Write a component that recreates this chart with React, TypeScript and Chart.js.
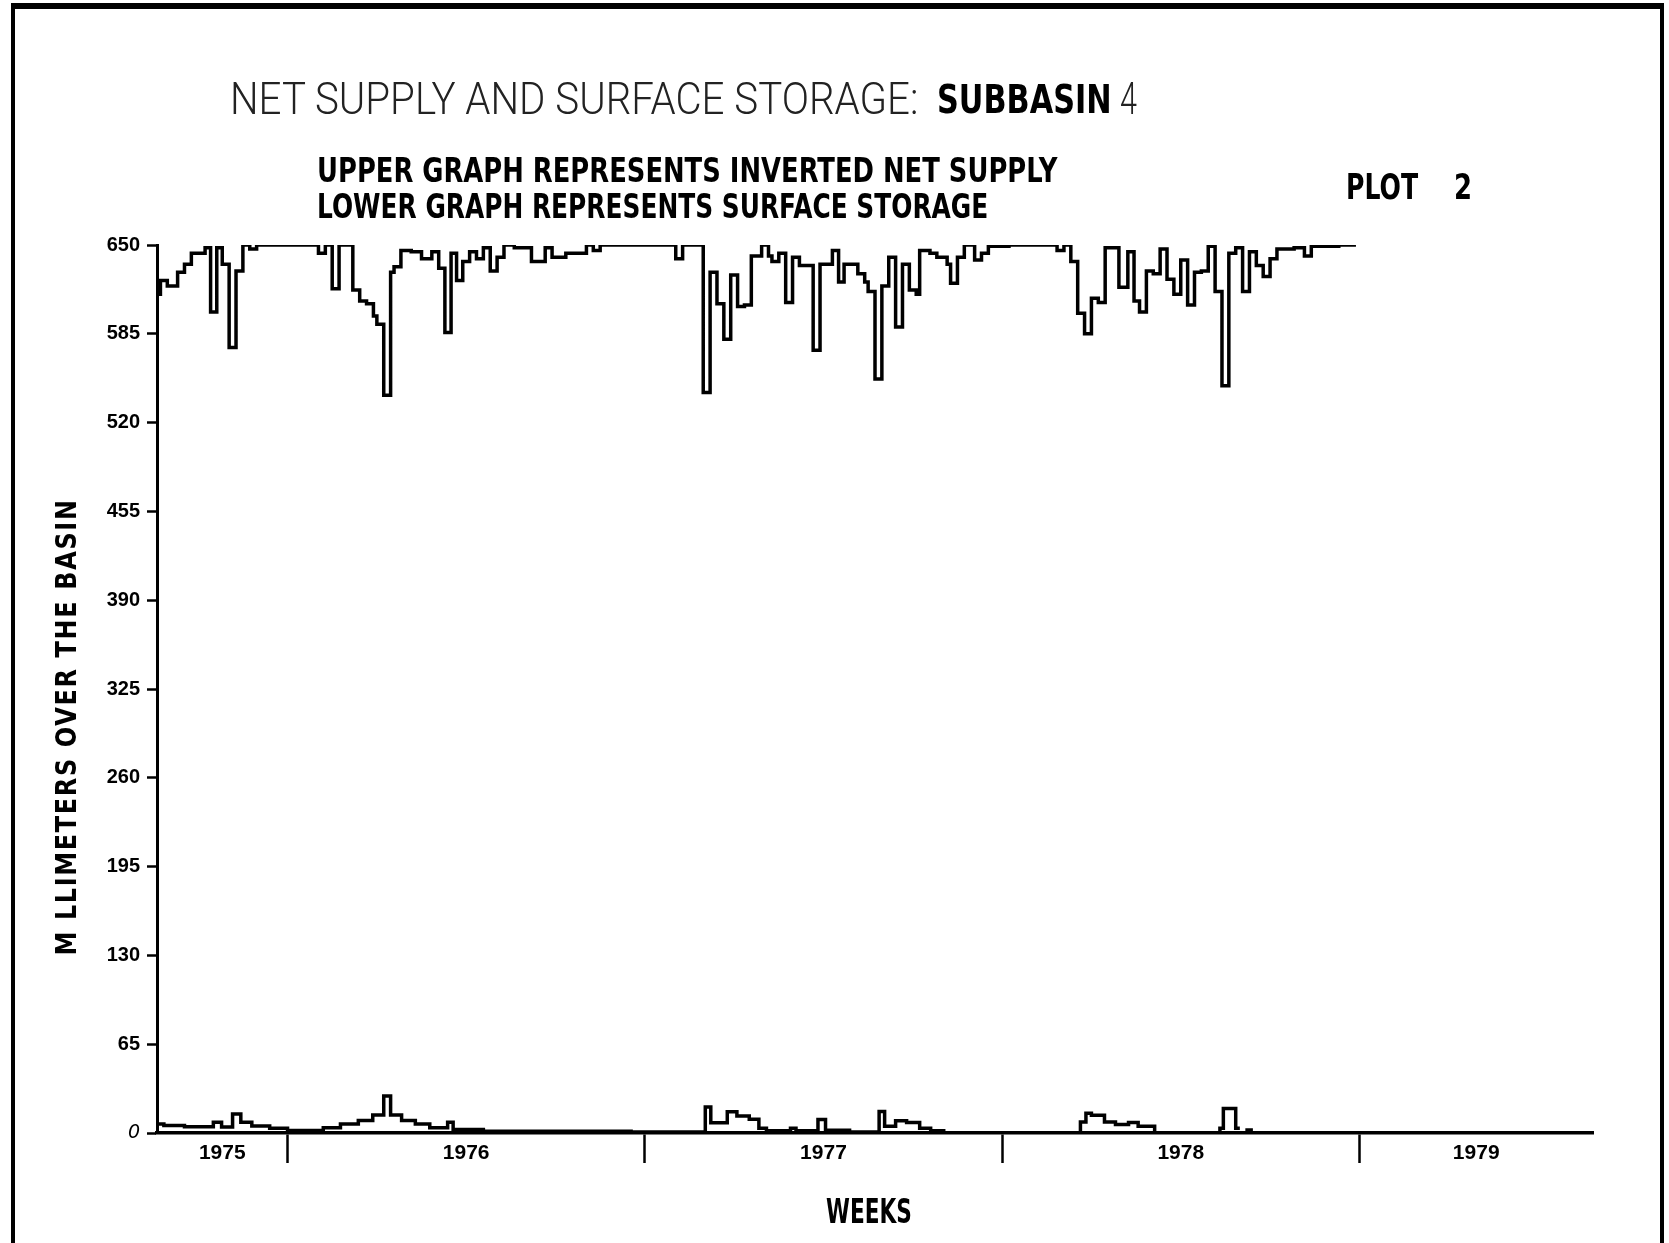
import React, { useEffect, useRef } from 'react';
import { Chart, registerables } from 'chart.js';

Chart.register(...registerables);

// Weeks counted from the left edge of the axis (the 1976 boundary falls near week 19)
const upperWeeks = [
  0, 0.5, 1.5, 3, 4, 5, 7, 7.8, 8.7, 9.5, 10.5, 11.5, 12.5, 13.5, 14.5, 23.5, 24.5, 25.5, 26.5, 28.5,
  29.5, 30.5, 31.5, 32, 33, 34, 34.5, 35.5, 37, 38.5, 40, 41, 41.9, 42.8, 43.6, 44.5, 45.5, 46.5, 47.5, 48.5,
  49.5, 50.5, 52, 54.5, 56.5, 57.5, 59.5, 62.5, 63.5, 64.5, 75.5, 76.5, 79.5, 80.5, 81.5, 82.5, 83.5, 84.5, 85.5, 86.5,
  88, 89, 89.5, 90.5, 91.5, 92.5, 93.5, 95.5, 96.5, 98.3, 99.2, 100, 102, 103, 103.5, 104.5, 105.5, 106.5, 107.5, 108.5,
  109.5, 110.5, 111, 112.5, 113.5, 115, 115.5, 116.5, 117.5, 119, 120, 121, 124, 131, 132, 133, 134, 135, 136, 137,
  138, 140, 141.3, 142.2, 143, 144, 145, 146, 147, 148, 149, 150, 151, 152, 153, 154, 155, 156, 157, 158,
  159, 160, 161, 162, 163, 165.5, 167, 168, 172, 174.5,
];
const upperValues = [
  614, 624, 620, 630, 636, 644, 648, 601, 648, 636, 575, 631, 650, 647, 650, 644, 650, 618, 650, 617,
  609, 607, 598, 592, 540, 630, 634, 646, 645, 640, 645, 633, 586, 644, 624, 638, 645, 640, 648, 631,
  641, 650, 648, 638, 648, 641, 644, 650, 646, 650, 640, 650, 542, 630, 607, 581, 628, 605, 606, 642,
  650, 642, 638, 644, 608, 641, 635, 573, 636, 646, 623, 636, 629, 623, 616, 552, 620, 641, 590, 636,
  617, 614, 646, 644, 641, 636, 622, 641, 650, 639, 644, 649, 650, 646, 650, 638, 600, 585, 611, 608,
  648, 619, 645, 609, 601, 631, 629, 647, 625, 614, 639, 606, 630, 631, 649, 616, 547, 644, 648, 616,
  645, 635, 627, 640, 647, 648, 642, 649, 650, 650,
];

const lowerWeeks = [
  0, 1, 4, 8.2, 9.4, 11, 12.2, 13.8, 16.4, 19, 24.2, 26.7, 29.3, 31.4, 33, 34, 35.6, 37.6, 39.7, 42.3,
  43.1, 47.5, 69, 79.8, 80.6, 83, 84.4, 86.2, 87.6, 88.7, 92.2, 93, 96.2, 97.3, 100.8, 105.1, 105.9, 107.5, 109.1, 111,
  112.6, 114.5, 114.6, 134.4, 134.4, 135.2, 136, 137.9, 139.5, 141.4, 142.8, 145.2, 145.3, 154.7, 154.7, 155.2, 157, 157.6, 157.7, 158.4,
  159.5,
];
const lowerValues = [
  6.5, 5.5, 4.5, 7.8, 4.4, 13.9, 7.8, 5.2, 3.4, 1.8, 3.9, 6.5, 9.2, 13.1, 27, 13.1, 9.2, 6.5, 3.9, 7.8,
  2.6, 1.3, 0.8, 19, 7.5, 15.5, 12.5, 10, 3.5, 1.6, 3.5, 1.6, 9.8, 2, 0.8, 15.7, 4.9, 9, 7.6, 3.5,
  1.6, 0, null, 0, 8, 14.4, 13, 8, 6.2, 7.6, 4.9, 0, null, 0, 3.5, 18, 3.5, 3.5, null, 2.2,
  2.2,
];

const yTickValues = [0, 65, 130, 195, 260, 325, 390, 455, 520, 585, 650];
const yearBoundaryWeeks = [19, 71, 123, 175];
const yearLabelWeeks = [9.5, 45, 97, 149, 192];
const yearLabels = ['1975', '1976', '1977', '1978', '1979'];
const xMaxWeek = 209;

const BOLD = "'DejaVu Sans', 'Liberation Sans', sans-serif";
const THIN = "Roboto, 'Open Sans', 'DejaVu Sans', sans-serif";

export default function App() {
  const ref = useRef<HTMLCanvasElement | null>(null);

  useEffect(() => {
    if (!ref.current) return;
    const upper = upperWeeks.map((w, i) => ({ x: w, y: upperValues[i] }));
    const lower = lowerWeeks.map((w, i) => ({ x: w, y: lowerValues[i] }));
    const xTicks = [...yearBoundaryWeeks, ...yearLabelWeeks].sort((a, b) => a - b);

    const chart = new Chart(ref.current, {
      type: 'line',
      data: {
        datasets: [
          {
            label: 'Inverted net supply',
            data: upper as any,
            borderColor: '#000',
            borderWidth: 3.5,
            pointRadius: 0,
            stepped: 'before',
            fill: false,
            spanGaps: false,
          },
          {
            label: 'Surface storage',
            data: lower as any,
            borderColor: '#000',
            borderWidth: 3.5,
            pointRadius: 0,
            stepped: 'before',
            fill: false,
            spanGaps: false,
          },
        ],
      },
      options: {
        responsive: false,
        animation: false,
        layout: { padding: { left: 0, top: 245, right: 76, bottom: 0 } },
        plugins: { legend: { display: false }, tooltip: { enabled: false }, title: { display: false } },
        scales: {
          x: {
            type: 'linear',
            min: 0,
            max: xMaxWeek,
            afterBuildTicks: (scale: any) => {
              scale.ticks = xTicks.map((v) => ({ value: v }));
            },
            afterFit: (scale: any) => {
              scale.height = 110;
            },
            ticks: {
              autoSkip: false,
              maxRotation: 0,
              minRotation: 0,
              padding: -22,
              color: '#000',
              font: { family: "'Liberation Sans', Arial, sans-serif", weight: 'bold', size: 21 },
              callback: (value: any) => {
                const idx = yearLabelWeeks.indexOf(Number(value));
                return idx >= 0 ? yearLabels[idx] : '';
              },
            },
            grid: {
              drawOnChartArea: false,
              drawTicks: true,
              tickLength: 30,
              tickWidth: 2.5,
              tickColor: (ctx: any) =>
                ctx.tick && yearBoundaryWeeks.includes(ctx.tick.value) ? '#000' : 'rgba(0,0,0,0)',
            },
            border: { display: true, color: '#000', width: 3.5 },
          },
          y: {
            type: 'linear',
            min: 0,
            max: 650,
            afterBuildTicks: (scale: any) => {
              scale.ticks = yTickValues.map((v) => ({ value: v }));
            },
            afterFit: (scale: any) => {
              scale.width = 157;
            },
            ticks: {
              autoSkip: false,
              padding: 7,
              color: '#000',
              font: (ctx: any) =>
                ctx.tick && ctx.tick.value === 0
                  ? { family: "'DejaVu Sans', sans-serif", style: 'italic', weight: 'normal', size: 19 }
                  : { family: "'Liberation Sans', Arial, sans-serif", weight: 'bold', size: 20 },
              callback: (value: any) => String(value),
            },
            grid: {
              drawOnChartArea: false,
              drawTicks: true,
              tickLength: 10,
              tickWidth: 2.5,
              tickColor: '#000',
            },
            border: { display: true, color: '#000', width: 3 },
          },
        },
      },
    } as any);
    return () => chart.destroy();
  }, []);

  // squeeze each header text horizontally to the width it has in the original
  useEffect(() => {
    const fit = () => {
      document.querySelectorAll<HTMLElement>('[data-fit]').forEach((el) => {
        const target = Number(el.dataset.fit);
        const base = el.dataset.base || '';
        el.style.transform = base;
        const w = el.offsetWidth;
        if (w > 0) el.style.transform = `${base} scaleX(${target / w})`;
      });
    };
    fit();
    const fonts = (document as any).fonts;
    if (fonts && fonts.ready) fonts.ready.then(fit);
  }, []);

  const abs = (s: React.CSSProperties): React.CSSProperties => ({
    position: 'absolute',
    whiteSpace: 'pre',
    lineHeight: 1,
    color: '#000',
    margin: 0,
    transformOrigin: 'left top',
    ...s,
  });

  return (
    <div
      style={{
        position: 'absolute',
        left: 0,
        top: 0,
        width: 1669,
        height: 1243,
        overflow: 'hidden',
        background: '#fff',
      }}
    >
      <canvas ref={ref} width={1669} height={1243} style={{ position: 'absolute', left: 0, top: 0 }} />
      {/* frame */}
      <div
        style={{
          position: 'absolute',
          left: 11,
          top: 3,
          width: 1645,
          height: 1300,
          borderTop: '6px solid #000',
          borderLeft: '4px solid #000',
          borderRight: '4px solid #000',
        }}
      />
      <div
        data-fit="688"
        style={abs({ left: 230, top: 76, fontFamily: THIN, fontWeight: 300, fontSize: 45, color: '#222' })}
      >
        NET SUPPLY AND SURFACE STORAGE:
      </div>
      <div data-fit="175" style={abs({ left: 937, top: 80, fontFamily: BOLD, fontWeight: 'bold', fontSize: 39 })}>
        SUBBASIN
      </div>
      <div
        data-fit="17"
        style={abs({ left: 1120, top: 76, fontFamily: THIN, fontWeight: 300, fontSize: 45, color: '#222' })}
      >
        4
      </div>
      <div data-fit="740" style={abs({ left: 317, top: 154, fontFamily: BOLD, fontWeight: 'bold', fontSize: 33 })}>
        UPPER GRAPH REPRESENTS INVERTED NET SUPPLY
      </div>
      <div data-fit="671" style={abs({ left: 317, top: 190, fontFamily: BOLD, fontWeight: 'bold', fontSize: 33 })}>
        LOWER GRAPH REPRESENTS SURFACE STORAGE
      </div>
      <div data-fit="72" style={abs({ left: 1346, top: 169, fontFamily: BOLD, fontWeight: 'bold', fontSize: 36 })}>
        PLOT
      </div>
      <div data-fit="18" style={abs({ left: 1454, top: 169, fontFamily: BOLD, fontWeight: 'bold', fontSize: 36 })}>
        2
      </div>
      <div data-fit="86" style={abs({ left: 826, top: 1194, fontFamily: BOLD, fontWeight: 'bold', fontSize: 34 })}>
        WEEKS
      </div>
      <div
        data-fit="457"
        data-base="translate(-50%, -50%) rotate(-90deg)"
        style={abs({
          left: 66,
          top: 727,
          fontFamily: BOLD,
          fontWeight: 'bold',
          fontSize: 29,
          letterSpacing: 2,
          transform: 'translate(-50%, -50%) rotate(-90deg)',
          transformOrigin: 'center center',
        })}
      >
        M LLIMETERS OVER THE BASIN
      </div>
    </div>
  );
}
